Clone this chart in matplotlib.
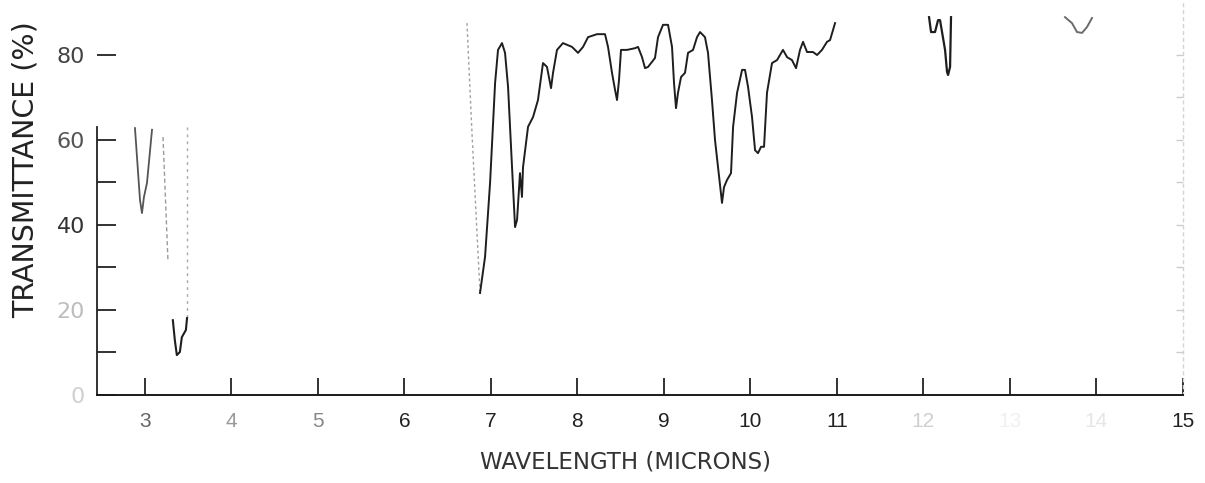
import matplotlib
matplotlib.use("Agg")
import matplotlib.pyplot as plt

# --- data (wavelength in microns, % transmittance) ---

# 3 micron O-H band (upper trace, partly faint)
oh_wl = [2.885, 2.943, 2.966, 2.989, 3.024, 3.082]
oh_t = [62.8, 45.9, 42.8, 46.6, 49.9, 62.4]

# pen strokes left by the recorder near 3.2-3.5 microns
pen_a_wl = [3.209, 3.267]
pen_a_t = [60.7, 31.3]
pen_b_wl = [3.487, 3.487]
pen_b_t = [63.0, 18.1]

# C-H stretch (lower trace)
ch_wl = [3.323, 3.346, 3.369, 3.404, 3.427, 3.474, 3.487]
ch_t = [17.6, 12.9, 9.4, 10.1, 13.6, 15.3, 18.1]

# faint descent into the 6.9 micron band
lead_wl = [6.724, 6.782, 6.840, 6.875]
lead_t = [87.5, 61.6, 38.1, 24.0]

# main trace 6.9 - 11 microns
main_wl = [6.875, 6.933, 6.991, 7.049, 7.083, 7.129, 7.164, 7.199, 7.245, 7.280,
           7.303, 7.337, 7.360, 7.372, 7.430, 7.488, 7.545, 7.603, 7.649, 7.696,
           7.719, 7.765, 7.834, 7.939, 8.008, 8.066, 8.124, 8.228, 8.320, 8.355,
           8.401, 8.436, 8.459, 8.482, 8.505, 8.575, 8.667, 8.702, 8.748, 8.783,
           8.818, 8.864, 8.898, 8.933, 8.991, 9.049, 9.095, 9.118, 9.141, 9.164,
           9.199, 9.245, 9.280, 9.338, 9.384, 9.419, 9.476, 9.511, 9.557, 9.592,
           9.627, 9.673, 9.696, 9.731, 9.777, 9.801, 9.847, 9.905, 9.939, 9.974,
           10.020, 10.055, 10.089, 10.124, 10.159, 10.193, 10.251, 10.309, 10.378, 10.425,
           10.482, 10.529, 10.575, 10.610, 10.656, 10.725, 10.772, 10.829, 10.887, 10.922,
           10.980]
main_t = [24.0, 32.5, 49.9, 73.4, 81.2, 82.8, 80.5, 72.5, 53.6, 39.5,
          41.2, 52.2, 46.6, 53.6, 63.1, 65.4, 69.4, 78.1, 77.2, 72.2,
          75.8, 81.2, 82.8, 81.9, 80.5, 81.9, 84.2, 84.9, 84.9, 81.9,
          75.8, 71.8, 69.4, 74.1, 81.2, 81.2, 81.6, 81.9, 79.5, 76.9,
          77.2, 78.4, 79.3, 84.2, 87.1, 87.1, 81.9, 73.4, 67.5, 71.1,
          74.8, 75.8, 80.5, 81.2, 84.2, 85.4, 84.2, 80.5, 69.4, 60.0,
          53.6, 45.2, 48.9, 50.6, 52.2, 63.1, 71.1, 76.5, 76.5, 72.5,
          65.4, 57.6, 56.9, 58.4, 58.4, 71.1, 78.1, 78.8, 81.2, 79.5,
          78.8, 76.9, 81.2, 83.1, 80.7, 80.7, 80.0, 81.2, 83.1, 83.5,
          87.5]

# band near 12.3 microns
b12_wl = [12.067, 12.090, 12.136, 12.171, 12.194, 12.252, 12.275, 12.287, 12.310, 12.321]
b12_t = [88.9, 85.4, 85.4, 88.2, 88.2, 81.2, 76.0, 75.3, 77.2, 88.9]

# shallow band near 13.8 microns
b14_wl = [13.639, 13.720, 13.778, 13.836, 13.894, 13.951]
b14_t = [88.9, 87.5, 85.4, 85.2, 86.6, 88.7]

x_ticks = [3, 4, 5, 6, 7, 8, 9, 10, 11, 12, 13, 14, 15]
x_labels = ['3', '4', '5', '6', '7', '8', '9', '10', '11', '12', '13', '14', '15']
x_label_colors = ['#666666', '#999999', '#888888', '#222222', '#222222', '#222222',
                  '#222222', '#222222', '#222222', '#cfcfcf', '#f0f0f0', '#e6e6e6', '#222222']
y_major = [0, 20, 40, 60, 80]
y_labels = ['0', '20', '40', '60', '80']
y_label_colors = ['#d0d0d0', '#bdbdbd', '#333333', '#555555', '#444444']
y_minor = [10, 30, 50]

# --- figure ---
fig = plt.figure(figsize=(12.05, 4.83), dpi=100)
fig.patch.set_facecolor('white')
ax = fig.add_axes([0.0805, 0.1822, 0.9010, 0.8178])

ax.plot(oh_wl, oh_t, color='#555555', linewidth=1.3)
ax.plot(pen_a_wl, pen_a_t, color='#9a9a9a', linewidth=1.0, linestyle=(0, (3, 2)))
ax.plot(pen_b_wl, pen_b_t, color='#a8a8a8', linewidth=1.0, linestyle=(0, (2, 3)))
ax.plot(ch_wl, ch_t, color='#1e1e1e', linewidth=1.5)
ax.plot(lead_wl, lead_t, color='#a0a0a0', linewidth=1.0, linestyle=(0, (2, 2)))
ax.plot(main_wl, main_t, color='#1e1e1e', linewidth=1.4)
ax.plot(b12_wl, b12_t, color='#1e1e1e', linewidth=1.6)
ax.plot(b14_wl, b14_t, color='#6a6a6a', linewidth=1.4)

ax.set_xlim(2.446, 15.0)
ax.set_ylim(0, 92.94)

# axes frame: bottom solid, left partial, right faint
ax.spines['top'].set_visible(False)
ax.spines['bottom'].set_color('#1a1a1a')
ax.spines['bottom'].set_linewidth(1.4)
ax.spines['left'].set_color('#222222')
ax.spines['left'].set_linewidth(1.3)
ax.spines['left'].set_bounds(0, 63)
ax.spines['right'].set_color('#d4d4d4')
ax.spines['right'].set_linestyle((0, (2, 3)))
ax.spines['right'].set_linewidth(1.0)

ax.set_xticks(x_ticks)
ax.set_xticklabels(x_labels, fontsize=15, family='Liberation Sans')
for lbl, c in zip(ax.get_xticklabels(), x_label_colors):
    lbl.set_color(c)
ax.tick_params(axis='x', direction='in', length=12, width=1.3, color='#222222', pad=12.5)

ax.set_yticks(y_major)
ax.set_yticklabels(y_labels, fontsize=16)
for lbl, c in zip(ax.get_yticklabels(), y_label_colors):
    lbl.set_color(c)
ax.set_yticks(y_minor, minor=True)
ax.tick_params(axis='y', which='both', direction='in', length=13.5, width=1.3,
               color='#222222', pad=8.5)
# no visible tick at 0 or 80, faint one at 20
ticks = ax.yaxis.get_major_ticks()
ticks[0].tick1line.set_visible(False)
ticks[-1].tick1line.set_visible(False)
ticks[1].tick1line.set_color('#c8c8c8')

# faint right-hand scale
ax2 = ax.twinx()
ax2.set_ylim(ax.get_ylim())
ax2.set_yticks([10, 20, 30, 40, 50, 60, 70, 80])
ax2.tick_params(axis='y', direction='in', length=5, width=1.0, color='#cccccc', labelright=False)
for side in ['top', 'bottom', 'left', 'right']:
    ax2.spines[side].set_visible(False)

# axis titles
fig.text(0.021, 0.342, 'TRANSMITTANCE (%)', rotation=90, ha='center', va='bottom',
         fontsize=20.5, color='#222222')
fig.text(0.519, 0.0435, 'WAVELENGTH (MICRONS)', ha='center', va='center',
         fontsize=16.5, color='#333333')

plt.savefig('out.png', dpi=100, facecolor='white')
plt.close()
